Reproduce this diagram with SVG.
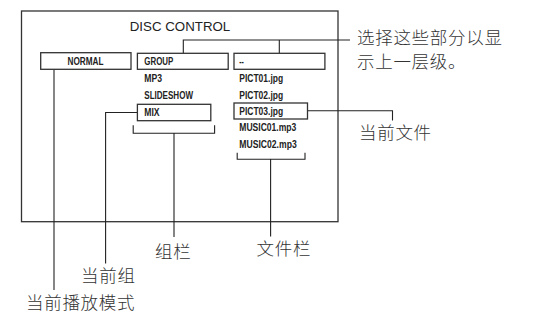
<svg xmlns="http://www.w3.org/2000/svg" width="546" height="335" viewBox="0 0 546 335">
<style>
.frame{fill:none;stroke:#333;stroke-width:1.3}
.box{fill:#fff;stroke:#333;stroke-width:1.3}
.ln{fill:none;stroke:#222;stroke-width:1.1}
.sm{font-family:"Liberation Sans",Arial,sans-serif;font-weight:bold;font-size:10px;fill:#222}
.ttl{font-family:"Liberation Sans",Arial,sans-serif;font-size:13.3px;fill:#222}
.cjk{font-family:"Noto Sans CJK SC",sans-serif;font-size:17.5px;font-weight:300;letter-spacing:0.7px;fill:#333}
</style>
<rect class="frame" x="21.5" y="11" width="316.5" height="210.7"/>
<text class="ttl" x="180" y="30.5" text-anchor="middle">DISC CONTROL</text>
<g id="connectors">
<path class="ln" d="M183.3,53.3 V40 H350 M279.3,40 V53.3"/>
<path class="ln" d="M307.5,110.7 H392.5 V120.5"/>
<path class="ln" d="M133.2,125.3 V133.3 H214.6 V125.3 M174,133.3 V237"/>
<path class="ln" d="M237.2,152.7 V159.3 H305 V152.7 M270.6,159.3 V236.5"/>
<path class="ln" d="M137.4,112.5 H105.6 V263.5"/>
<path class="ln" d="M54,69.3 V290"/>
</g>
<g id="normal"><rect class="box" x="40.7" y="52.7" width="90.3" height="16.6"/><text class="sm" x="67.5" y="64.5" textLength="36" lengthAdjust="spacingAndGlyphs">NORMAL</text></g>
<g id="group"><rect class="box" x="137.4" y="53.3" width="90.8" height="16"/><text class="sm" x="144.3" y="65.3" textLength="29" lengthAdjust="spacingAndGlyphs">GROUP</text></g>
<g id="mp3"><text class="sm" x="144.3" y="82.3" textLength="17.7" lengthAdjust="spacingAndGlyphs">MP3</text></g>
<g id="slideshow"><text class="sm" x="144.3" y="99.3" textLength="48.7" lengthAdjust="spacingAndGlyphs">SLIDESHOW</text></g>
<g id="mix"><rect class="box" x="137.4" y="104.3" width="73.4" height="16.4"/><text class="sm" x="144.3" y="115.8" textLength="15.3" lengthAdjust="spacingAndGlyphs">MIX</text></g>
<g id="parent"><rect class="box" x="234" y="53.3" width="90.9" height="16"/><text class="sm" x="239.3" y="65.3" textLength="4.5" lengthAdjust="spacingAndGlyphs">--</text></g>
<g id="pict01"><text class="sm" x="239.3" y="81.7" textLength="43.8" lengthAdjust="spacingAndGlyphs">PICT01.jpg</text></g>
<g id="pict02"><text class="sm" x="239.3" y="98.7" textLength="43.8" lengthAdjust="spacingAndGlyphs">PICT02.jpg</text></g>
<g id="pict03"><rect class="box" x="234" y="103" width="73.5" height="16"/><text class="sm" x="239.3" y="114.7" textLength="43.8" lengthAdjust="spacingAndGlyphs">PICT03.jpg</text></g>
<g id="music01"><text class="sm" x="239.3" y="131.3" textLength="57" lengthAdjust="spacingAndGlyphs">MUSIC01.mp3</text></g>
<g id="music02"><text class="sm" x="239.3" y="148.3" textLength="57.4" lengthAdjust="spacingAndGlyphs">MUSIC02.mp3</text></g>
<g id="lbl-upper"><text class="cjk" x="357" y="44.2">选择这些部分以显</text><text class="cjk" x="357" y="67.5">示上一层级。</text></g>
<g id="lbl-curfile"><text class="cjk" x="359" y="139.3">当前文件</text></g>
<g id="lbl-groupcol"><text class="cjk" x="155" y="257.5">组栏</text></g>
<g id="lbl-filecol"><text class="cjk" x="256.5" y="255.3">文件栏</text></g>
<g id="lbl-curgroup"><text class="cjk" x="81" y="282">当前组</text></g>
<g id="lbl-curmode"><text class="cjk" x="26" y="308.8">当前播放模式</text></g>
</svg>
